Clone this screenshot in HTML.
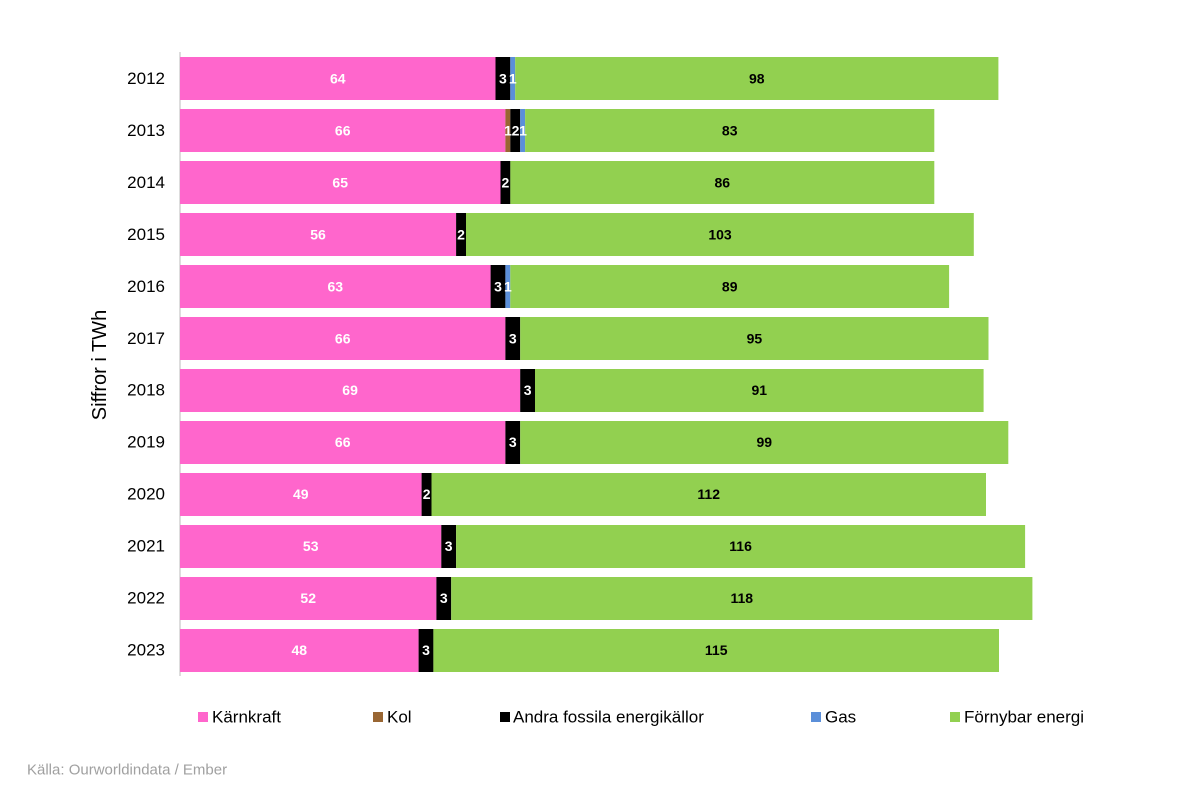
<!DOCTYPE html>
<html><head><meta charset="utf-8"><style>
body{margin:0;background:#fff}
svg{display:block;font-family:"Liberation Sans",Arial,sans-serif}
.v{font-size:14px;font-weight:bold;text-anchor:middle;dominant-baseline:central}
.w{fill:#fff}
.y{font-size:17px;text-anchor:end;dominant-baseline:central}
.l{font-size:17px;dominant-baseline:central}
</style></head><body>
<svg width="1200" height="800" viewBox="0 0 1200 800">
<rect width="1200" height="800" fill="#fff"/>
<line x1="180" y1="52" x2="180" y2="676" stroke="#bbb" stroke-width="1"/>
<g>
<rect x="180" y="57" width="315.5" height="43" fill="#FF66CC"/><rect x="495.5" y="57" width="14.8" height="43" fill="#000"/><rect x="510.3" y="57" width="4.9" height="43" fill="#5B8FD9"/><rect x="515.2" y="57" width="483.2" height="43" fill="#92D050"/>
<text class="v w" x="337.8" y="78.5">64</text><text class="v w" x="502.9" y="78.5">3</text><text class="v w" x="512.8" y="78.5">1</text><text class="v" x="756.8" y="78.5">98</text>
<text class="y" x="165" y="78.5">2012</text>
<rect x="180" y="109" width="325.4" height="43" fill="#FF66CC"/><rect x="505.4" y="109" width="4.9" height="43" fill="#996633"/><rect x="510.3" y="109" width="9.9" height="43" fill="#000"/><rect x="520.2" y="109" width="4.9" height="43" fill="#5B8FD9"/><rect x="525.1" y="109" width="409.2" height="43" fill="#92D050"/>
<text class="v w" x="342.7" y="130.5">66</text><text class="v w" x="508" y="130.5">1</text><text class="v w" x="515.5" y="130.5">2</text><text class="v w" x="523" y="130.5">1</text><text class="v" x="729.7" y="130.5">83</text>
<text class="y" x="165" y="130.5">2013</text>
<rect x="180" y="161" width="320.5" height="43" fill="#FF66CC"/><rect x="500.5" y="161" width="9.9" height="43" fill="#000"/><rect x="510.3" y="161" width="424" height="43" fill="#92D050"/>
<text class="v w" x="340.2" y="182.4">65</text><text class="v w" x="505.4" y="182.4">2</text><text class="v" x="722.3" y="182.4">86</text>
<text class="y" x="165" y="182.4">2014</text>
<rect x="180" y="213" width="276.1" height="43" fill="#FF66CC"/><rect x="456.1" y="213" width="9.9" height="43" fill="#000"/><rect x="466" y="213" width="507.8" height="43" fill="#92D050"/>
<text class="v w" x="318" y="234.4">56</text><text class="v w" x="461" y="234.4">2</text><text class="v" x="720" y="234.4">103</text>
<text class="y" x="165" y="234.4">2015</text>
<rect x="180" y="265" width="310.6" height="43" fill="#FF66CC"/><rect x="490.6" y="265" width="14.8" height="43" fill="#000"/><rect x="505.4" y="265" width="4.9" height="43" fill="#5B8FD9"/><rect x="510.3" y="265" width="438.8" height="43" fill="#92D050"/>
<text class="v w" x="335.3" y="286.3">63</text><text class="v w" x="498" y="286.3">3</text><text class="v w" x="507.9" y="286.3">1</text><text class="v" x="729.7" y="286.3">89</text>
<text class="y" x="165" y="286.3">2016</text>
<rect x="180" y="317" width="325.4" height="43" fill="#FF66CC"/><rect x="505.4" y="317" width="14.8" height="43" fill="#000"/><rect x="520.2" y="317" width="468.3" height="43" fill="#92D050"/>
<text class="v w" x="342.7" y="338.3">66</text><text class="v w" x="512.8" y="338.3">3</text><text class="v" x="754.4" y="338.3">95</text>
<text class="y" x="165" y="338.3">2017</text>
<rect x="180" y="369" width="340.2" height="43" fill="#FF66CC"/><rect x="520.2" y="369" width="14.8" height="43" fill="#000"/><rect x="535" y="369" width="448.6" height="43" fill="#92D050"/>
<text class="v w" x="350.1" y="390.2">69</text><text class="v w" x="527.6" y="390.2">3</text><text class="v" x="759.3" y="390.2">91</text>
<text class="y" x="165" y="390.2">2018</text>
<rect x="180" y="421" width="325.4" height="43" fill="#FF66CC"/><rect x="505.4" y="421" width="14.8" height="43" fill="#000"/><rect x="520.2" y="421" width="488.1" height="43" fill="#92D050"/>
<text class="v w" x="342.7" y="442.2">66</text><text class="v w" x="512.8" y="442.2">3</text><text class="v" x="764.3" y="442.2">99</text>
<text class="y" x="165" y="442.2">2019</text>
<rect x="180" y="473" width="241.6" height="43" fill="#FF66CC"/><rect x="421.6" y="473" width="9.9" height="43" fill="#000"/><rect x="431.5" y="473" width="554.5" height="43" fill="#92D050"/>
<text class="v w" x="300.8" y="494.1">49</text><text class="v w" x="426.6" y="494.1">2</text><text class="v" x="708.7" y="494.1">112</text>
<text class="y" x="165" y="494.1">2020</text>
<rect x="180" y="525" width="261.3" height="43" fill="#FF66CC"/><rect x="441.3" y="525" width="14.8" height="43" fill="#000"/><rect x="456.1" y="525" width="569" height="43" fill="#92D050"/>
<text class="v w" x="310.7" y="546.1">53</text><text class="v w" x="448.7" y="546.1">3</text><text class="v" x="740.6" y="546.1">116</text>
<text class="y" x="165" y="546.1">2021</text>
<rect x="180" y="577" width="256.4" height="43" fill="#FF66CC"/><rect x="436.4" y="577" width="14.8" height="43" fill="#000"/><rect x="451.2" y="577" width="581.2" height="43" fill="#92D050"/>
<text class="v w" x="308.2" y="598">52</text><text class="v w" x="443.8" y="598">3</text><text class="v" x="741.8" y="598">118</text>
<text class="y" x="165" y="598">2022</text>
<rect x="180" y="629" width="238.6" height="43" fill="#FF66CC"/><rect x="418.6" y="629" width="14.8" height="43" fill="#000"/><rect x="433.4" y="629" width="565.6" height="43" fill="#92D050"/>
<text class="v w" x="299.3" y="650">48</text><text class="v w" x="426" y="650">3</text><text class="v" x="716.2" y="650">115</text>
<text class="y" x="165" y="650">2023</text>
</g>
<text x="100" y="365" font-size="20" text-anchor="middle" dominant-baseline="central" transform="rotate(-90 100 365)">Siffror i TWh</text>
<g>
<rect x="198" y="712" width="10" height="10" fill="#FF66CC"/><text class="l" x="212" y="717">Kärnkraft</text>
<rect x="373" y="712" width="10" height="10" fill="#996633"/><text class="l" x="387" y="717">Kol</text>
<rect x="500" y="712" width="10" height="10" fill="#000"/><text class="l" x="513" y="717">Andra fossila energikällor</text>
<rect x="811" y="712" width="10" height="10" fill="#5B8FD9"/><text class="l" x="825" y="717">Gas</text>
<rect x="950" y="712" width="10" height="10" fill="#92D050"/><text class="l" x="964" y="717">Förnybar energi</text>
</g>
<text x="27" y="770" font-size="15" fill="#a0a0a0" dominant-baseline="central">Källa: Ourworldindata / Ember</text>
</svg>
</body></html>
